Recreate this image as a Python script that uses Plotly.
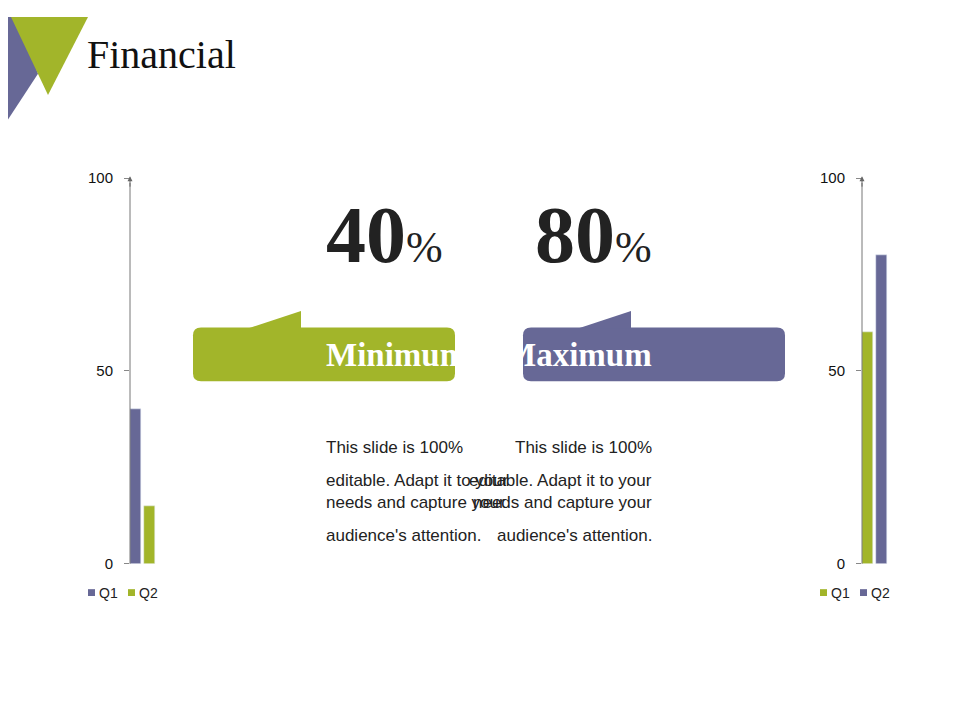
import plotly.graph_objects as go

GREEN = "#A2B52A"
PURPLE = "#676896"

series_names = ["Q1", "Q2"]
left_values = [40, 15]
left_colors = [PURPLE, GREEN]
right_values = [60, 80]
right_colors = [GREEN, PURPLE]
y_ticks = [0, 50, 100]
stat_values = ["40", "80"]
stat_labels = ["Minimum", "Maximum"]
body_lines = ["This slide is 100%", "editable. Adapt it to your",
              "needs and capture your", "audience's attention."]

W, H = 960, 720
def fx(px): return px / W
def fy(py): return 1 - py / H

fig = go.Figure()
for i, (v, c) in enumerate(zip(left_values, left_colors)):
    fig.add_trace(go.Bar(x=[i], y=[v], width=0.8, marker_color=c, xaxis="x", yaxis="y", showlegend=False))
for i, (v, c) in enumerate(zip(right_values, right_colors)):
    fig.add_trace(go.Bar(x=[i], y=[v], width=0.8, marker_color=c, xaxis="x2", yaxis="y2", showlegend=False))

ydom = [fy(560), fy(165)]
yax = dict(range=[0, 100], tickvals=y_ticks, showgrid=False, zeroline=False, showline=False,
           ticks="outside", ticklen=5, tickcolor="#888", tickfont=dict(family="Liberation Sans, Arial", size=15, color="#111"),
           ticklabelstandoff=8)
xax = dict(range=[-0.4, 1.6], showticklabels=False, showgrid=False, zeroline=False, showline=False, fixedrange=True)
fig.update_layout(
    width=W, height=H, margin=dict(l=0, r=0, t=0, b=0),
    paper_bgcolor="white", plot_bgcolor="rgba(0,0,0,0)",
    xaxis=dict(domain=[fx(122), fx(149.5)], **xax),
    xaxis2=dict(domain=[fx(854), fx(881.5)], **xax),
    yaxis=dict(domain=ydom, anchor="x", **yax),
    yaxis2=dict(domain=ydom, anchor="x2", **yax),
    bargap=0,
)

shapes = []
ann = []
# decorative triangles
shapes.append(dict(type="path", xref="paper", yref="paper", line_width=0, fillcolor=PURPLE,
                   path=f"M {fx(0)} {fy(0)} L {fx(10)} {fy(0)} L {fx(30)} {fy(58)} L {fx(0)} {fy(105)} Z"))
shapes.append(dict(type="path", xref="paper", yref="paper", line_width=0, fillcolor=GREEN,
                   path=f"M {fx(3)} {fy(0)} L {fx(80)} {fy(0)} L {fx(40)} {fy(80)} Z"))
ann.append(dict(x=fx(77), y=fy(38), xref="paper", yref="paper", text="Financial", showarrow=False,
                xanchor="left", yanchor="middle", font=dict(family="Liberation Serif, Times New Roman", size=40, color="#111")))

# axis lines with arrows
for ax_px in [122, 854]:
    shapes.append(dict(type="line", xref="paper", yref="paper", x0=fx(ax_px), x1=fx(ax_px), y0=fy(560), y1=fy(170),
                       line=dict(color="#777", width=1)))
    ann.append(dict(x=fx(ax_px), y=fy(163), ax=0, ay=12, xref="paper", yref="paper",
                    axref="pixel", ayref="pixel", text="", showarrow=True, arrowhead=2, arrowsize=1,
                    arrowwidth=1, arrowcolor="#666"))

# legends
for base, colors in [(80, left_colors), (812, right_colors)]:
    x = base
    for name, c in zip(series_names, colors):
        shapes.append(dict(type="rect", xref="paper", yref="paper", x0=fx(x), x1=fx(x + 7), y0=fy(593), y1=fy(586),
                           fillcolor=c, line_width=0))
        ann.append(dict(x=fx(x + 9), y=fy(590), xref="paper", yref="paper", text=name, showarrow=False,
                        xanchor="left", yanchor="middle", font=dict(family="Liberation Sans, Arial", size=14, color="#222")))
        x += 40

# callouts
for (left, cx, color), val, lab in zip([(185, 316, GREEN), (515, 646, PURPLE)], stat_values, stat_labels):
    right = left + 262
    top, bot, r = 318, 373, 8
    path = (f"M {fx(left + r)} {fy(top)} L {fx(right - r)} {fy(top)} Q {fx(right)} {fy(top)} {fx(right)} {fy(top + r)} "
            f"L {fx(right)} {fy(bot - r)} Q {fx(right)} {fy(bot)} {fx(right - r)} {fy(bot)} "
            f"L {fx(left + r)} {fy(bot)} Q {fx(left)} {fy(bot)} {fx(left)} {fy(bot - r)} "
            f"L {fx(left)} {fy(top + r)} Q {fx(left)} {fy(top)} {fx(left + r)} {fy(top)} Z")
    shapes.append(dict(type="path", xref="paper", yref="paper", path=path, fillcolor=color, line_width=0))
    shapes.append(dict(type="path", xref="paper", yref="paper", fillcolor=color, line_width=0,
                       path=f"M {fx(left + 55)} {fy(top + 1)} L {fx(left + 108)} {fy(301)} L {fx(left + 108)} {fy(top + 1)} Z"))
    ann.append(dict(x=fx(cx), y=fy(346), xref="paper", yref="paper", text=f"<b>{lab}</b>", showarrow=False,
                    font=dict(family="Liberation Serif, Times New Roman", size=33, color="white")))
    ann.append(dict(x=fx(cx), y=fy(270), xref="paper", yref="paper", showarrow=False, yanchor="bottom",
                    text=f"<b><span style='font-size:80px'>{val}</span></b><span style='font-size:44px'>%</span>",
                    font=dict(family="Liberation Serif, Times New Roman", size=80, color="#222")))
    for k, line in enumerate(body_lines):
        ann.append(dict(x=fx(cx), y=fy(441 + 34 * k), xref="paper", yref="paper", text=line, showarrow=False,
                        font=dict(family="Liberation Sans, Arial", size=17, color="#222")))

fig.update_layout(shapes=shapes, annotations=ann)
fig.write_html("out.html")
